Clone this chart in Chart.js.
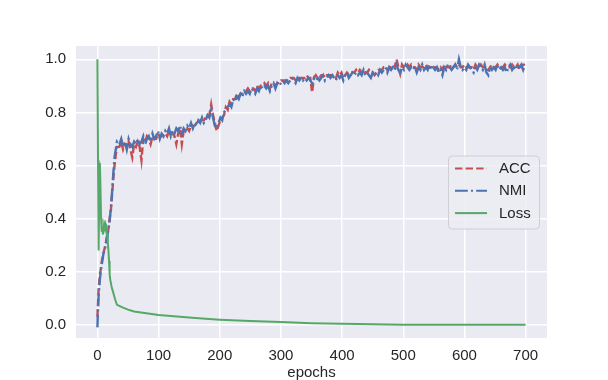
<!DOCTYPE html>
<html>
<head>
<meta charset="utf-8">
<script src="https://cdn.jsdelivr.net/npm/chart.js@4/dist/chart.umd.min.js"></script>
<style>
  html, body { margin: 0; padding: 0; background: #ffffff; }
  #wrap { width: 608px; height: 380px; }
</style>
</head>
<body>
<div id="wrap"><canvas id="c" width="608" height="380"></canvas></div>
<script>
// ---- data ----
// early epochs (explicit)
const earlyEpochs = [0,1,2,3,4,5,6,8,10,12,14,16,18,20,22,24,26,28,30,32];
const accEarly = [0.03,0.08,0.14,0.16,0.19,0.20,0.22,0.25,0.27,0.29,0.31,0.34,0.36,0.40,0.43,0.49,0.55,0.60,0.64,0.67];
const nmiEarly = [-0.01,0.06,0.11,0.14,0.17,0.19,0.21,0.24,0.27,0.28,0.31,0.33,0.36,0.39,0.44,0.50,0.57,0.63,0.66,0.69];
// later epochs: one value every 3 epochs, from epoch 36 to 699
const lateStart = 36, lateStep = 3;
const accLate = [
  0.67,0.69,0.66,0.68,0.67,0.69,0.66,0.63,0.68,0.67,
  0.69,0.67,0.62,0.70,0.69,0.71,0.70,0.68,0.71,0.70,
  0.70,0.72,0.71,0.71,0.72,0.72,0.71,0.73,0.72,0.72,
  0.71,0.68,0.72,0.74,0.68,0.73,0.74,0.74,0.73,0.75,
  0.75,0.75,0.76,0.76,0.77,0.77,0.77,0.78,0.78,0.79,
  0.83,0.79,0.76,0.73,0.75,0.77,0.78,0.79,0.82,0.81,
  0.84,0.83,0.85,0.85,0.87,0.86,0.87,0.87,0.88,0.88,
  0.89,0.88,0.89,0.89,0.88,0.90,0.89,0.90,0.90,0.91,
  0.90,0.91,0.89,0.91,0.91,0.90,0.91,0.91,0.92,0.92,
  0.92,0.92,0.92,0.93,0.93,0.93,0.92,0.93,0.93,0.93,
  0.93,0.93,0.94,0.93,0.93,0.875,0.93,0.94,0.93,0.93,
  0.94,0.94,0.93,0.94,0.94,0.94,0.94,0.94,0.93,0.95,
  0.94,0.95,0.93,0.94,0.95,0.94,0.95,0.95,0.95,0.96,
  0.95,0.96,0.95,0.96,0.95,0.95,0.96,0.95,0.95,0.94,
  0.95,0.96,0.96,0.96,0.97,0.97,0.96,0.97,0.97,0.98,
  0.97,1.00,0.97,0.945,0.98,0.97,0.97,0.98,0.97,0.98,
  0.97,0.97,0.96,0.98,0.97,0.97,0.97,0.98,0.97,0.97,
  0.97,0.96,0.97,0.97,0.96,0.97,0.96,0.98,0.97,0.97,
  0.97,0.98,0.97,0.98,0.97,0.98,0.97,0.97,0.98,0.97,
  0.97,0.97,0.97,0.96,0.98,0.97,0.97,0.98,0.97,0.97,
  0.96,0.96,0.97,0.98,0.97,0.97,0.98,0.97,0.97,0.97,
  0.98,0.97,0.97,0.97,0.98,0.97,0.97,0.98,0.96,0.97,
  0.98,0.98];
const nmiLate = [
  0.68,0.70,0.67,0.69,0.66,0.70,0.68,0.67,0.69,0.68,
  0.70,0.68,0.69,0.71,0.68,0.70,0.71,0.69,0.72,0.70,
  0.71,0.73,0.70,0.72,0.71,0.73,0.72,0.74,0.71,0.73,
  0.72,0.74,0.73,0.75,0.72,0.74,0.73,0.75,0.74,0.76,
  0.74,0.76,0.75,0.77,0.76,0.78,0.76,0.77,0.79,0.78,
  0.81,0.78,0.75,0.74,0.76,0.78,0.77,0.80,0.81,0.82,
  0.83,0.82,0.85,0.84,0.86,0.85,0.87,0.86,0.88,0.87,
  0.88,0.87,0.89,0.88,0.87,0.89,0.88,0.90,0.89,0.90,
  0.89,0.90,0.88,0.90,0.91,0.89,0.91,0.90,0.91,0.92,
  0.91,0.92,0.91,0.92,0.93,0.92,0.91,0.93,0.92,0.93,
  0.92,0.93,0.92,0.93,0.92,0.91,0.93,0.92,0.93,0.92,
  0.93,0.94,0.92,0.93,0.94,0.93,0.94,0.93,0.92,0.94,
  0.93,0.94,0.92,0.94,0.95,0.93,0.94,0.95,0.94,0.95,
  0.94,0.95,0.94,0.96,0.94,0.95,0.94,0.93,0.95,0.94,
  0.95,0.94,0.96,0.95,0.96,0.97,0.95,0.97,0.96,0.97,
  0.96,0.98,0.96,0.95,0.97,0.96,0.98,0.97,0.96,0.97,
  0.96,0.97,0.95,0.97,0.96,0.98,0.96,0.97,0.96,0.98,
  0.96,0.97,0.96,0.97,0.95,0.96,0.94,0.97,0.96,0.98,
  0.97,0.96,0.97,0.98,0.96,1.00,0.97,0.96,0.97,0.96,
  0.98,0.97,0.96,0.95,0.97,0.96,0.98,0.97,0.96,0.98,
  0.95,0.94,0.97,0.96,0.97,0.96,0.98,0.96,0.97,0.96,
  0.97,0.95,0.97,0.98,0.96,0.97,0.96,0.98,0.97,0.98,
  0.96,0.98];
const lossEpochs = [0,1,2,3,4,5,6,7,8,9,10,11,12,13,14,15,16,17,18,19,20,21,23,26,29,32,35,40,50,60,80,100,130,160,200,250,300,350,400,450,500,600,700];
const loss = [1.0,0.62,0.28,0.50,0.61,0.52,0.40,0.35,0.37,0.34,0.36,0.38,0.37,0.38,0.37,0.36,0.34,0.31,0.28,0.24,0.19,0.17,0.145,0.12,0.095,0.075,0.072,0.066,0.057,0.050,0.043,0.037,0.031,0.025,0.019,0.014,0.010,0.006,0.004,0.002,0.0,0.0,0.0];
const xTicks = [0,100,200,300,400,500,600,700];
const yTicks = [0.0,0.2,0.4,0.6,0.8,1.0];
const labels = ['ACC','NMI','Loss'];
// ---------------

const RED = '#C44E52', BLUE = '#4C72B0', GREEN = '#55A868';
const TXT = '#262626';
const FONT = "'Liberation Sans', Arial, sans-serif";
const LW = 2;
const LWD = 2.4;
const dashACC = [7.4, 3.2];
const dashNMI = [12.8, 3.2, 2, 3.2];

const lateEpochs = accLate.map((_, i) => lateStart + i * lateStep);
const epochs = earlyEpochs.concat(lateEpochs);
const acc = accEarly.concat(accLate);
const nmi = nmiEarly.concat(nmiLate);
const pts = (xs, ys) => xs.map((x, i) => ({x: x, y: ys[i]}));

const bgPlugin = {
  id: 'bg',
  beforeDraw(chart) {
    const {ctx, chartArea: a} = chart;
    ctx.save();
    ctx.fillStyle = '#EAEAF2';
    ctx.fillRect(a.left, a.top, a.right - a.left, a.bottom - a.top);
    ctx.restore();
  }
};

const legendPlugin = {
  id: 'mplLegend',
  afterDraw(chart) {
    const {ctx, chartArea: a} = chart;
    const w = 91, h = 73;
    const x0 = a.right - 8 - w;
    const y0 = (a.top + a.bottom) / 2 - h / 2;
    ctx.save();
    ctx.beginPath();
    if (ctx.roundRect) ctx.roundRect(x0 + 0.5, y0 + 0.5, w, h, 4); else ctx.rect(x0 + 0.5, y0 + 0.5, w, h);
    ctx.fillStyle = 'rgba(236,236,243,0.85)';
    ctx.fill();
    ctx.strokeStyle = 'rgba(204,204,210,0.9)';
    ctx.lineWidth = 1;
    ctx.stroke();
    const ds = chart.data.datasets;
    for (let i = 0; i < ds.length; i++) {
      const cy = y0 + 13 + i * 22.3;
      ctx.beginPath();
      ctx.setLineDash(ds[i].borderDash || []);
      ctx.strokeStyle = ds[i].borderColor;
      ctx.lineWidth = LW;
      ctx.moveTo(x0 + 7, cy);
      ctx.lineTo(x0 + 39, cy);
      ctx.stroke();
      ctx.setLineDash([]);
      ctx.fillStyle = TXT;
      ctx.font = '15px ' + FONT;
      ctx.textBaseline = 'middle';
      ctx.textAlign = 'left';
      ctx.fillText(ds[i].label, x0 + 51, cy + 0.5);
    }
    ctx.restore();
  }
};

new Chart(document.getElementById('c'), {
  type: 'line',
  data: {
    datasets: [
      {label: labels[0], data: pts(epochs, acc), borderColor: RED, borderDash: dashACC, borderWidth: LWD, pointRadius: 0, tension: 0, order: 2},
      {label: labels[1], data: pts(epochs, nmi), borderColor: BLUE, borderDash: dashNMI, borderWidth: LWD, pointRadius: 0, tension: 0, order: 1},
      {label: labels[2], data: pts(lossEpochs, loss), borderColor: GREEN, borderWidth: LW, pointRadius: 0, tension: 0, order: 0}
    ]
  },
  options: {
    responsive: false,
    animation: false,
    devicePixelRatio: 1,
    layout: {padding: {top: 46, right: 61, left: 0, bottom: 0}},
    plugins: {legend: {display: false}, tooltip: {enabled: false}},
    scales: {
      x: {
        type: 'linear', min: -35, max: 735,
        afterBuildTicks: s => { s.ticks = xTicks.map(v => ({value: v})); },
        afterFit: s => { s.height = 42; },
        grid: {color: '#ffffff', lineWidth: 1.5, drawTicks: false},
        border: {display: false},
        ticks: {color: TXT, font: {family: FONT, size: 15}, padding: 9, maxRotation: 0, autoSkip: false},
        title: {display: true, text: 'epochs', color: TXT, font: {family: FONT, size: 15, lineHeight: 1}, padding: {top: 0, bottom: 0}}
      },
      y: {
        min: -0.05, max: 1.05,
        afterBuildTicks: s => { s.ticks = yTicks.map(v => ({value: v})); },
        afterFit: s => { s.width = 76; },
        grid: {color: '#ffffff', lineWidth: 1.5, drawTicks: false},
        border: {display: false},
        ticks: {color: TXT, font: {family: FONT, size: 15}, padding: 10, callback: v => Number(v).toFixed(1)}
      }
    }
  },
  plugins: [bgPlugin, legendPlugin]
});
</script>
</body>
</html>
